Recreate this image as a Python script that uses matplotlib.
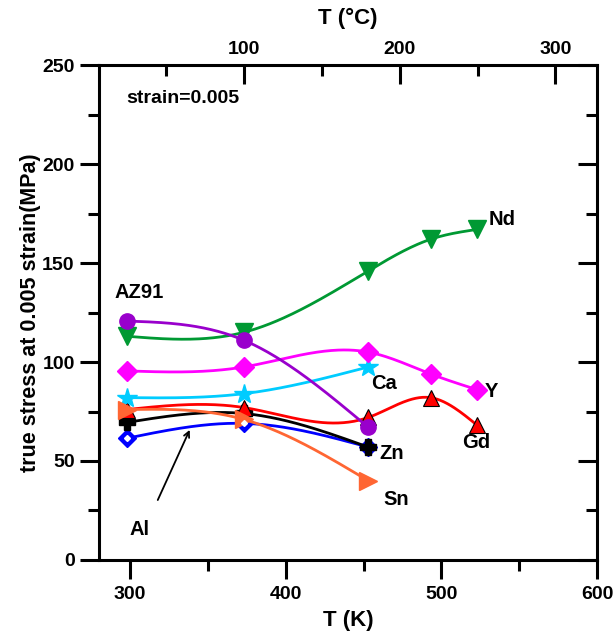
import numpy as np
import matplotlib.pyplot as plt
from matplotlib.ticker import MultipleLocator

plt.rcParams['font.family'] = ['Liberation Sans', 'DejaVu Sans']
plt.rcParams['font.weight'] = 'bold'

# temperatures (K)
T3 = [298, 373, 453]
T5 = [298, 373, 453, 493, 523]

az91 = [120.7, 111, 67]
nd = [113, 115, 146, 162, 167]
y_el = [95.5, 97.5, 105, 94, 86]
ca = [82, 84, 97.5]
gd = [76, 77, 72, 82, 68]
zn = [69.5, 74, 57]
al = [61.5, 69, 57]
sn = [76, 71, 40]


def spline(x, y, n=200):
    # natural cubic spline through the points
    x = np.asarray(x, float)
    y = np.asarray(y, float)
    k = len(x)
    h = np.diff(x)
    A = np.zeros((k, k))
    b = np.zeros(k)
    A[0, 0] = A[-1, -1] = 1
    for i in range(1, k - 1):
        A[i, i - 1] = h[i - 1]
        A[i, i] = 2 * (h[i - 1] + h[i])
        A[i, i + 1] = h[i]
        b[i] = 6 * ((y[i + 1] - y[i]) / h[i] - (y[i] - y[i - 1]) / h[i - 1])
    M = np.linalg.solve(A, b)
    xs = np.linspace(x[0], x[-1], n)
    idx = np.clip(np.searchsorted(x, xs) - 1, 0, k - 2)
    x0, x1 = x[idx], x[idx + 1]
    hh = x1 - x0
    ys = (M[idx] * (x1 - xs) ** 3 / (6 * hh) + M[idx + 1] * (xs - x0) ** 3 / (6 * hh)
          + (y[idx] / hh - M[idx] * hh / 6) * (x1 - xs)
          + (y[idx + 1] / hh - M[idx + 1] * hh / 6) * (xs - x0))
    return xs, ys


fig = plt.figure(figsize=(6.15, 6.38), dpi=100)
ax = fig.add_axes([0.161, 0.1223, 0.81, 0.7757])

series = [
    (T3, al, '#0000FF', 'D', 9, dict(mfc='#0000FF', mec='#0000FF')),
    (T3, zn, 'black', 'P', 12, dict(mfc='black', mec='black')),
    (T5, gd, '#FF0000', '^', 11, dict(mfc='#FF0000', mec='black', mew=0.8)),
    (T3, ca, '#00CCFF', '*', 15, dict(mfc='#00CCFF', mec='#00CCFF')),
    (T5, y_el, '#FF00FF', 'D', 10, dict(mfc='#FF00FF', mec='#FF00FF')),
    (T5, nd, '#009933', 'v', 13, dict(mfc='#009933', mec='#009933')),
    (T3, az91, '#9900CC', 'o', 11, dict(mfc='#9900CC', mec='#9900CC')),
    (T3, sn, '#FF6633', '>', 13, dict(mfc='#FF6633', mec='#FF6633')),
]
for x, y, c, m, ms, kw in series:
    xs, ys = spline(x, y)
    ax.plot(xs, ys, color=c, lw=2)
    ax.plot(x, y, ls='none', marker=m, ms=ms, **kw)
# white centre of the Al symbols
ax.plot(T3[:2], al[:2], ls='none', marker='D', ms=3, mfc='white', mec='white')

lab = dict(fontsize=14.5, fontweight='bold', ha='center', va='center')
ax.text(306, 135, 'AZ91', **lab)
ax.text(539, 172, 'Nd', **lab)
ax.text(463, 89, 'Ca', **lab)
ax.text(532, 85, 'Y', **lab)
ax.text(522, 59.5, 'Gd', **lab)
ax.text(468, 54, 'Zn', **lab)
ax.text(471, 30.5, 'Sn', **lab)
ax.text(306, 15.5, 'Al', **lab)
ax.text(334, 233, 'strain=0.005', fontsize=14, fontweight='bold', ha='center', va='center')
ax.annotate('', xy=(339, 67), xytext=(317, 29),
            arrowprops=dict(arrowstyle='->', color='black', lw=1.3))

ax.set_xlim(280, 600)
ax.set_ylim(0, 250)
ax.xaxis.set_major_locator(MultipleLocator(100))
ax.xaxis.set_minor_locator(MultipleLocator(50))
ax.yaxis.set_major_locator(MultipleLocator(50))
ax.yaxis.set_minor_locator(MultipleLocator(25))
ax.tick_params(which='both', direction='out', width=2.2, labelsize=14)
ax.tick_params(which='major', length=14)
ax.tick_params(which='minor', length=8)
ax.tick_params(axis='y', right=True, which='both')
ax.tick_params(axis='x', pad=5)
for lbl in ax.get_xticklabels() + ax.get_yticklabels():
    lbl.set_fontweight('bold')
for s in ax.spines.values():
    s.set_linewidth(2.2)
ax.set_xlabel('T (K)', fontsize=16, fontweight='bold', labelpad=5)
ax.set_ylabel('true stress at 0.005 strain(MPa)', fontsize=15.5, fontweight='bold', labelpad=1)
# make right ticks point inward
for t in ax.yaxis.get_major_ticks() + ax.yaxis.get_minor_ticks():
    t.tick2line.set_marker(0)

top = ax.secondary_xaxis('top', functions=(lambda k: k - 273.15, lambda c: c + 273.15))
top.xaxis.set_major_locator(MultipleLocator(100))
top.xaxis.set_minor_locator(MultipleLocator(50))
top.tick_params(which='both', direction='in', width=2.2, labelsize=14, pad=5)
top.tick_params(which='major', length=14)
top.tick_params(which='minor', length=8)
for lbl in top.xaxis.get_ticklabels():
    lbl.set_fontweight('bold')
top.set_xlabel('T (°C)', fontsize=16, fontweight='bold', labelpad=12)

fig.savefig('out.png', dpi=100)
